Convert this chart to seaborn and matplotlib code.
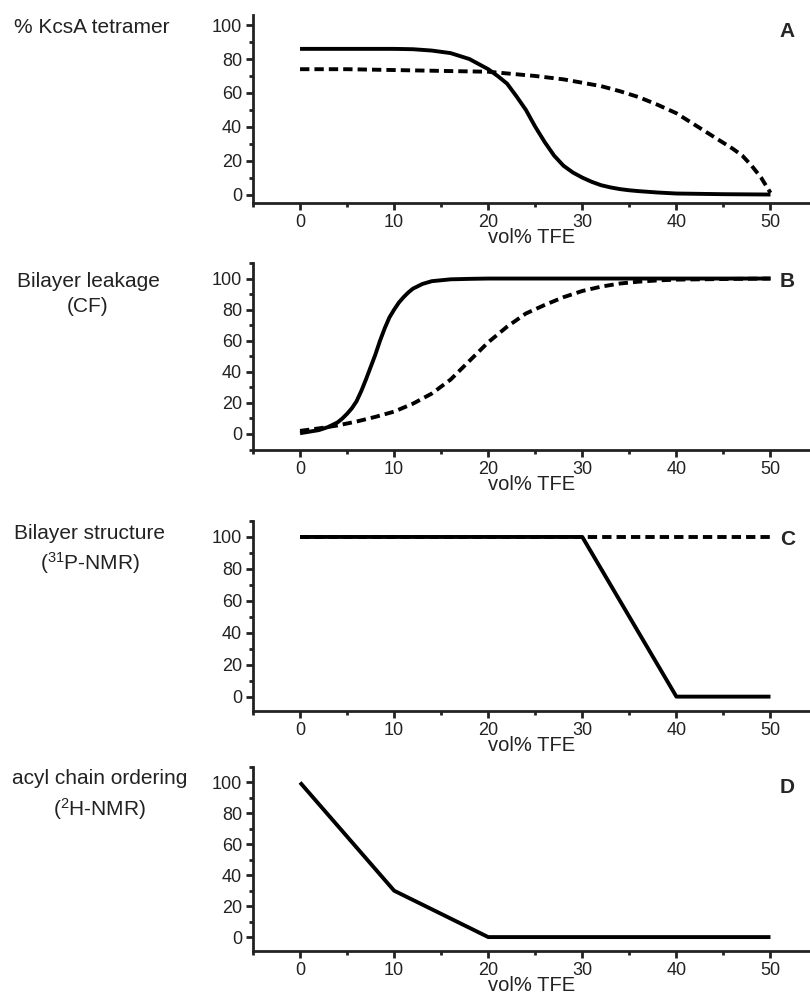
import numpy as np
import matplotlib
matplotlib.use("Agg")
import matplotlib.pyplot as plt
import matplotlib.transforms as mtransforms
from matplotlib.ticker import MultipleLocator
import seaborn as sns

# dati (vol% TFE -> percentuale)

# pannello A: % KcsA tetramer
a_solid_x = [0, 5, 10, 12, 14, 16, 18, 20, 21, 22, 23, 24, 25, 26, 27, 28, 29, 30, 31, 32, 33, 34, 35, 36, 38, 40, 45, 50]
a_solid_y = [86, 86, 86, 85.8, 85, 83.5, 80, 74, 70, 65.5, 58, 50, 40, 31, 23, 17, 13, 10, 7.5, 5.5, 4.2, 3.2, 2.5, 2, 1.2, 0.6, 0.2, 0]
a_dash_x = [0, 5, 10, 15, 20, 25, 28, 30, 32, 34, 36, 38, 40, 42, 44, 46, 47, 48, 49, 50]
a_dash_y = [74, 74, 73.5, 73, 72.5, 70, 68, 66, 64, 61, 57.5, 53, 48, 41, 34, 27, 23, 17, 10, 1]

# pannello B: Bilayer leakage (CF)
b_solid_x = [0, 1, 2, 3, 4, 4.5, 5, 5.5, 6, 6.5, 7, 7.5, 8, 8.5, 9, 9.5, 10, 10.5, 11, 11.5, 12, 13, 14, 16, 18, 20, 30, 40, 50]
b_solid_y = [0.5, 1.5, 2.5, 4.5, 7.5, 10, 13, 16.5, 21, 27.5, 35, 43, 51, 60, 68, 75, 80, 84.5, 88, 91, 93.5, 96.5, 98.3, 99.5, 99.8, 100, 100, 100, 100]
b_dash_x = [0, 2, 4, 6, 8, 10, 12, 14, 16, 18, 20, 22, 24, 26, 28, 30, 32, 34, 36, 38, 40, 45, 50]
b_dash_y = [2, 3.6, 5.5, 8, 11, 14.4, 19.5, 26, 35, 47, 59, 69, 77.5, 83, 88, 92, 94.8, 96.8, 98, 98.8, 99.3, 99.7, 100]

# pannello C: Bilayer structure (31P-NMR)
c_solid_x = [0, 10, 20, 30, 40, 50]
c_solid_y = [100, 100, 100, 100, 0, 0]
c_dash_x = [0, 10, 20, 30, 40, 50]
c_dash_y = [100, 100, 100, 100, 100, 100]

# pannello D: acyl chain ordering (2H-NMR)
d_x = [0, 10, 20, 30, 40, 50]
d_y = [100, 30, 0, 0, 0, 0]

sns.set_style("ticks")
plt.rcParams['font.family'] = ['Liberation Sans', 'DejaVu Sans']
plt.rcParams['mathtext.fontset'] = 'custom'
plt.rcParams['mathtext.rm'] = 'Liberation Sans'
plt.rcParams['mathtext.default'] = 'regular'

fig = plt.figure(figsize=(8.1, 9.99), dpi=100)

left = 253 / 810
width = 1 - left
# (bottom, height, ylim) per pannello
pannelli = [
    (1 - 203 / 999, 188 / 999, (-5, 106)),
    (1 - 450 / 999, 187 / 999, (-10.3, 110)),
    (1 - 711 / 999, 190 / 999, (-9, 110)),
    (1 - 951 / 999, 184 / 999, (-9, 110)),
]
etichette = ["% KcsA tetramer", "Bilayer leakage\n(CF)",
             "Bilayer structure\n(${}^{31}$P-NMR)", "acyl chain ordering\n(${}^{2}$H-NMR)"]
etichette_x = [92, 88, 90, 100]
lettere = ["A", "B", "C", "D"]
lettere_y = [96, 98, 98.5, 97]

serie = [
    [(a_solid_x, a_solid_y, "-"), (a_dash_x, a_dash_y, "--")],
    [(b_solid_x, b_solid_y, "-"), (b_dash_x, b_dash_y, "--")],
    [(c_dash_x, c_dash_y, "--"), (c_solid_x, c_solid_y, "-")],
    [(d_x, d_y, "-")],
]

dash_style = (0, (2.4, 1.3))
grigio = "#222222"
interlinea = 25.5  # pixel tra le righe delle etichette

for i, (bot, h, ylim) in enumerate(pannelli):
    ax = fig.add_axes([left, bot, width, h])
    for xs, ys, ls in serie[i]:
        sns.lineplot(x=xs, y=ys, ax=ax, color="black", linewidth=2.8,
                     linestyle=dash_style if ls == "--" else "-",
                     solid_capstyle="butt", dash_capstyle="butt")
    ax.set_xlim(-5, 54.2)
    ax.set_ylim(*ylim)
    sns.despine(ax=ax)
    for s in ["left", "bottom"]:
        ax.spines[s].set_linewidth(2)
        ax.spines[s].set_color(grigio)
    ax.set_xticks([0, 10, 20, 30, 40, 50])
    ax.set_yticks([0, 20, 40, 60, 80, 100])
    ax.xaxis.set_minor_locator(MultipleLocator(5))
    ax.yaxis.set_minor_locator(MultipleLocator(10))
    ax.tick_params(which="major", direction="out", length=5, width=2,
                   labelsize=13, pad=3, color=grigio, labelcolor=grigio)
    ax.tick_params(which="minor", direction="out", length=3, width=2, color=grigio)
    ax.set_xlabel("vol% TFE", fontsize=14.5, labelpad=-2, color=grigio)
    ax.set_ylabel("")
    ax.text(51.8, lettere_y[i], lettere[i], fontsize=15, fontweight="bold",
            ha="center", va="center")
    # etichetta a sinistra, prima riga centrata sul tick 100
    n_righe = etichette[i].count("\n") + 1
    trans = mtransforms.blended_transform_factory(fig.transFigure, ax.transData)
    trans = mtransforms.offset_copy(trans, fig=fig, y=-7.5 - interlinea * (n_righe - 1),
                                    units="dots")
    fig.text(etichette_x[i] / 810, 100, etichette[i], transform=trans, fontsize=15,
             ha="center", va="baseline", multialignment="center",
             linespacing=1.39, color=grigio)

fig.savefig("out.png", dpi=100)
